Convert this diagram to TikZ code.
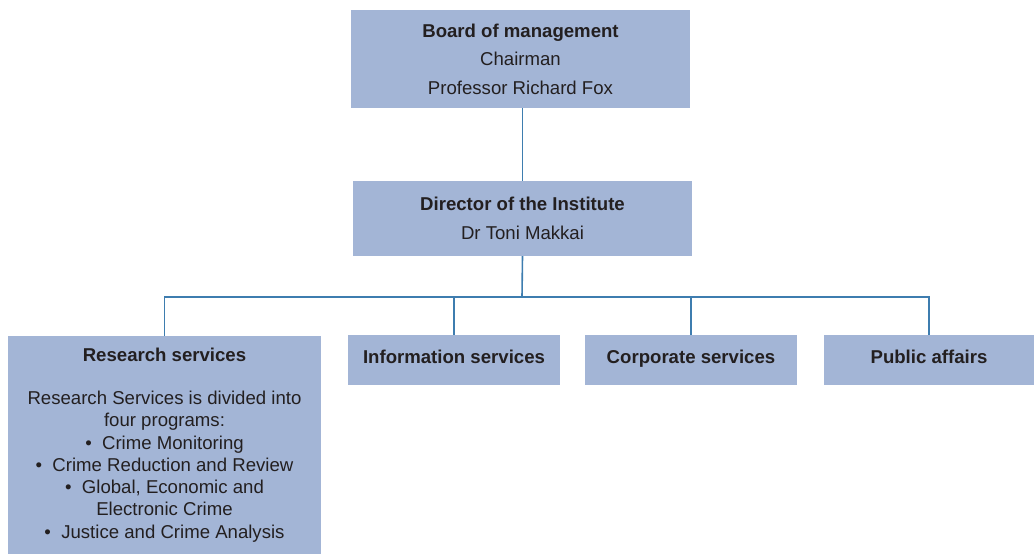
\documentclass[tikz,border=0pt]{standalone}
\usepackage{fontspec}
\setmainfont{Liberation Sans}
\definecolor{boxfill}{RGB}{163,181,214}
\definecolor{linkblue}{RGB}{62,125,175}
\definecolor{inktext}{RGB}{35,31,32}
\begin{document}
\begin{tikzpicture}[x=1pt,y=-1pt,
  unit/.style={fill=boxfill,draw=none,inner sep=0pt,align=center,text=inktext,
    anchor=center},
  tallbox/.style={unit,font=\fontsize{18.6}{28.5}\selectfont},
  listbox/.style={unit,font=\fontsize{18.6}{22.3}\selectfont},
  linebox/.style={listbox,minimum height=50pt,text height=13.4pt,text depth=6pt},
  link/.style={draw=linkblue,line width=1.6pt}]
\useasboundingbox (0,0) rectangle (1034,555);

% governance
\node[tallbox,minimum width=339pt,minimum height=98pt] (board) at (520.5,59)
  {\textbf{Board of management}\\Chairman\\Professor Richard Fox};
\node[tallbox,minimum width=339pt,minimum height=75pt] (director) at (522.5,218.5)
  {\textbf{Director of the Institute}\\Dr Toni Makkai};

% service areas
\node[listbox,minimum width=313pt,minimum height=218pt] (research) at (164.5,445)
  {\textbf{Research services}\\[20.7pt]
   Research Services is divided into\\
   four programs:\\
   \textbullet\ \ Crime Monitoring\\
   \textbullet\ \ Crime Reduction and Review\\
   \textbullet\ \ Global, Economic and\\
   Electronic Crime\\
   \textbullet\ \ Justice and Crime Analysis};
\node[linebox,minimum width=212pt] (info) at (454,360)
  {\textbf{Information services}};
\node[linebox,minimum width=212pt] (corporate) at (691,360)
  {\textbf{Corporate services}};
\node[linebox,minimum width=210pt] (public) at (929,360)
  {\textbf{Public affairs}};

% reporting lines
\coordinate (bus) at (522,297);
\draw[link] (director.north |- board.south) -- (director.north);
\draw[link] (director.south) -- (bus);
\draw[link] (research.north) |- (bus) -| (public.north);
\draw[link] (info.north) -- (info.north |- bus);
\draw[link] (corporate.north) -- (corporate.north |- bus);
\end{tikzpicture}
\end{document}
